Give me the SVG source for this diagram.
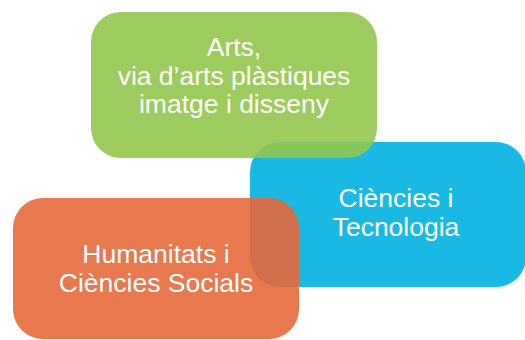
<svg xmlns="http://www.w3.org/2000/svg" width="525" height="340" viewBox="0 0 525 340">
<style>
.box{fill-opacity:0.9}
.t{font-family:"Liberation Sans",Arial,sans-serif;font-size:26.5px;fill:#ffffff;text-anchor:middle}
</style>
<rect width="525" height="340" fill="#ffffff"/>
<g id="ciencies">
<rect class="box" x="250" y="142" width="276" height="145" rx="30" fill="#00b1e0"/>
<text class="t" x="396" y="207">Ciències i</text>
<text class="t" x="396" y="236">Tecnologia</text>
</g>
<g id="arts">
<rect class="box" x="91" y="12" width="286" height="146" rx="30" fill="#91c64d"/>
<text class="t" x="234" y="56">Arts,</text>
<text class="t" x="234" y="85">via d’arts plàstiques</text>
<text class="t" x="234" y="113">imatge i disseny</text>
</g>
<g id="humanitats">
<rect class="box" x="13" y="198" width="286" height="141" rx="30" fill="#e6693b"/>
<text class="t" x="156" y="263">Humanitats i</text>
<text class="t" x="156" y="292">Ciències Socials</text>
</g>
<g id="connectors"/>
</svg>
